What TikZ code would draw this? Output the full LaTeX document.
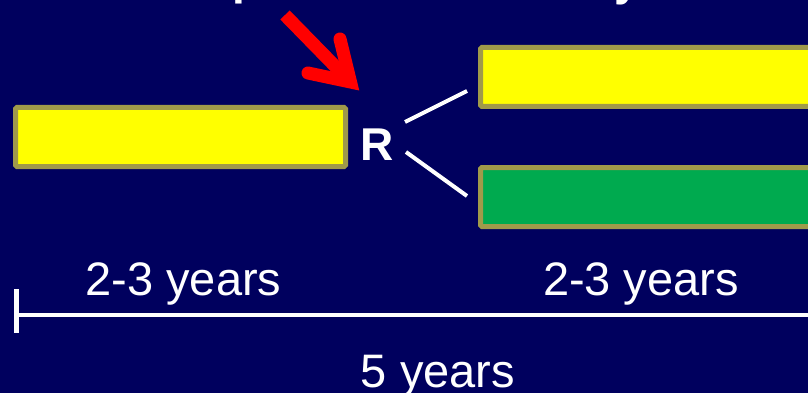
\documentclass[tikz,border=0pt]{standalone}
\usepackage{fontspec}
\setmainfont{Liberation Sans}
\definecolor{bg}{RGB}{0,0,94}
\definecolor{barborder}{RGB}{160,154,74}
\definecolor{baryellow}{RGB}{255,255,0}
\definecolor{bargreen}{RGB}{0,170,79}
\definecolor{arrowred}{RGB}{255,0,0}
\begin{document}
\begin{tikzpicture}[x=1pt,y=-1pt,
  bar/.style={draw=barborder, line width=5pt, rounded corners=1.5pt, inner sep=0pt, minimum height=59pt},
  lbl/.style={text=white, font=\fontsize{47}{50}\selectfont, inner sep=0pt, anchor=base},
  wline/.style={draw=white, line width=4pt}]
\useasboundingbox (0,0) rectangle (808,393);
\fill[bg] (0,0) rectangle (808,393);
\begin{scope}
\clip (0,0) rectangle (808,393);
% fragments of a title cut off above
\node[lbl, font=\fontsize{46}{50}\selectfont\bfseries, anchor=base west] (tp) at (232,-5) {p};
\node[lbl, font=\fontsize{46}{50}\selectfont\bfseries, anchor=base west] (ty) at (614,-4) {y};
% bars
\node[bar, fill=baryellow, minimum width=330pt] (bar1) at (180.5,137) {};
\node[bar, fill=baryellow, minimum width=340pt] (bar2) at (650.5,77) {};
\node[bar, fill=bargreen, minimum width=340pt] (bar3) at (650.5,197) {};
% R
\node[lbl, font=\fontsize{46}{50}\selectfont\bfseries] (R) at (377,160) {R};
\coordinate (u1) at (405,122); \coordinate (u2) at (467,91);
\coordinate (d1) at (406,152); \coordinate (d2) at (467,196);
\draw[wline] (u1) -- (u2);
\draw[wline] (d1) -- (d2);
% red arrow
\coordinate (as) at (285,15);
\coordinate (ac) at (350.5,82);
\coordinate (ab1) at (308,73);
\coordinate (ab2) at (340,39);
\draw[arrowred, line width=13pt] (as) -- (ac);
\draw[arrowred, line width=13pt, line cap=round, line join=miter] (ab1) -- (ac) -- (ab2);
% timeline
\coordinate (t0) at (16,289); \coordinate (t1) at (16,333);
\coordinate (l0) at (14,314.5); \coordinate (l1) at (812,314.5);
\draw[draw=white, line width=5pt] (t0) -- (t1);
\draw[wline] (l0) -- (l1);
\node[lbl] (y1) at (183.5,295) {2-3 years};
\node[lbl] (y2) at (641,295) {2-3 years};
\node[lbl] (y5) at (438,387) {5 years};
\end{scope}
\end{tikzpicture}
\end{document}
